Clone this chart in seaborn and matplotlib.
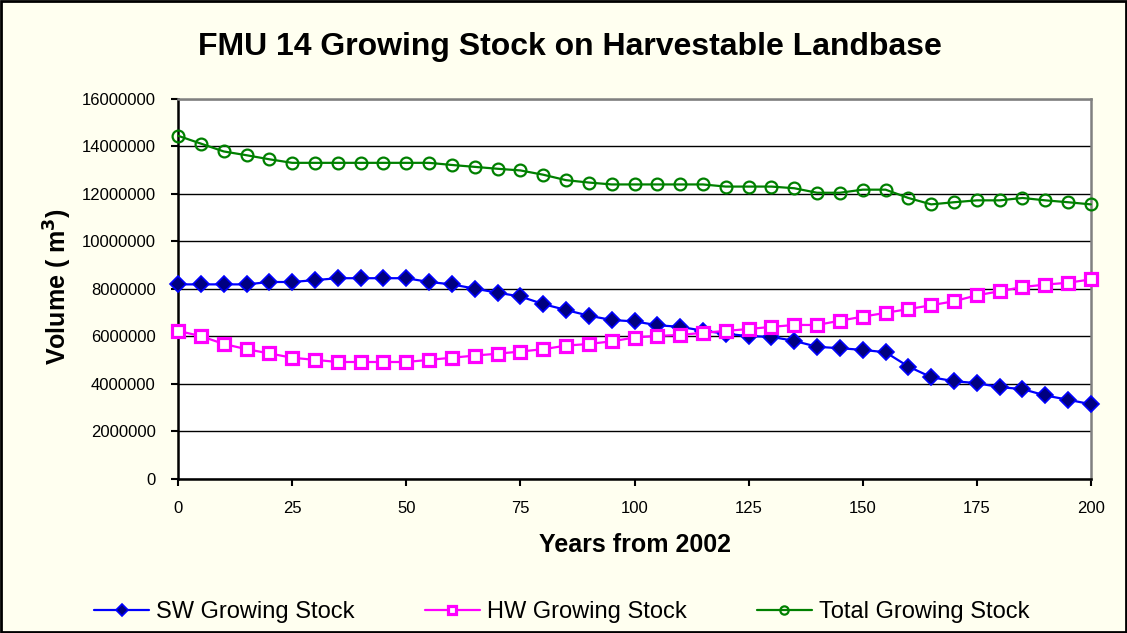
import numpy as np
import pandas as pd
import matplotlib
matplotlib.use('Agg')
import matplotlib.pyplot as plt
import seaborn as sns

# Data (volumes in millions of m3)
years = list(range(0, 201, 5))
sw_stock = [8.18, 8.18, 8.18, 8.18, 8.28, 8.28, 8.36, 8.44, 8.44, 8.44, 8.44,
            8.28, 8.18, 8.00, 7.83, 7.67, 7.35, 7.10, 6.86, 6.68, 6.62,
            6.46, 6.39, 6.23, 6.10, 6.00, 5.97, 5.80, 5.55, 5.49, 5.42,
            5.32, 4.72, 4.27, 4.10, 4.02, 3.85, 3.77, 3.50, 3.32, 3.13]
hw_stock = [6.22, 6.00, 5.67, 5.45, 5.27, 5.09, 5.00, 4.91, 4.91, 4.91, 4.91,
            5.00, 5.09, 5.18, 5.26, 5.35, 5.45, 5.60, 5.67, 5.78, 5.94,
            6.01, 6.05, 6.14, 6.22, 6.30, 6.39, 6.47, 6.47, 6.65, 6.82,
            6.98, 7.14, 7.30, 7.47, 7.72, 7.89, 8.07, 8.17, 8.25, 8.39]
total_stock = [14.44, 14.11, 13.78, 13.62, 13.45, 13.30, 13.30, 13.30, 13.30, 13.30, 13.30,
               13.30, 13.21, 13.13, 13.05, 12.98, 12.80, 12.57, 12.47, 12.39, 12.39,
               12.39, 12.39, 12.39, 12.30, 12.30, 12.30, 12.23, 12.04, 12.04, 12.17,
               12.17, 11.82, 11.55, 11.64, 11.72, 11.72, 11.82, 11.72, 11.64, 11.55]
y_ticks = list(range(0, 16000001, 2000000))
x_ticks = list(range(0, 201, 25))

df = pd.DataFrame({'Year': years,
                   'SW': np.array(sw_stock) * 1e6,
                   'HW': np.array(hw_stock) * 1e6,
                   'Total': np.array(total_stock) * 1e6})

sns.set_theme(style='white')
plt.rcParams['font.family'] = ['Liberation Sans', 'DejaVu Sans']
plt.rcParams['mathtext.default'] = 'bf'
plt.rcParams['text.color'] = 'black'

bg = '#FFFFF0'
fig = plt.figure(figsize=(11.27, 6.33), dpi=100, facecolor=bg)
ax = fig.add_axes([0.158, 0.244, 0.810, 0.600])
ax.set_facecolor('white')

sns.lineplot(data=df, x='Year', y='SW', ax=ax, color='#0000FF', lw=1.6,
             marker='D', markersize=8.5, markerfacecolor='#000080',
             markeredgecolor='#0000FF', markeredgewidth=1.2, label='SW Growing Stock',
             clip_on=False, zorder=5)
sns.lineplot(data=df, x='Year', y='HW', ax=ax, color='#FF00FF', lw=1.6,
             marker='s', markersize=8.5, markerfacecolor='white',
             markeredgecolor='#FF00FF', markeredgewidth=2.3, label='HW Growing Stock',
             clip_on=False, zorder=5)
sns.lineplot(data=df, x='Year', y='Total', ax=ax, color='#008000', lw=1.6,
             marker='o', markersize=8.5, markerfacecolor='none',
             markeredgecolor='#008000', markeredgewidth=1.6, label='Total Growing Stock',
             clip_on=False, zorder=5)

ax.set_xlim(0, 200)
ax.set_ylim(0, 16000000)
ax.set_xticks(x_ticks)
ax.set_yticks(y_ticks)
ax.set_yticklabels([str(v) for v in y_ticks])
ax.tick_params(axis='both', labelsize=12, direction='out', length=5, width=1.5,
               colors='black', labelcolor='black', left=True, bottom=True, pad=11)
ax.yaxis.grid(True, color='black', lw=1)
ax.xaxis.grid(False)
for side in ['left', 'bottom']:
    ax.spines[side].set_color('black')
    ax.spines[side].set_linewidth(1.8)
for side in ['top', 'right']:
    ax.spines[side].set_color('#808080')
    ax.spines[side].set_linewidth(1.8)

ax.set_xlabel('Years from 2002', fontsize=18, fontweight='bold', color='black')
ax.xaxis.set_label_coords(0.5, -0.174)
ax.xaxis.label.set_va('center')
ax.set_ylabel('Volume ( m$^3$)', fontsize=18, fontweight='bold', color='black')
ax.yaxis.set_label_coords(-0.132, 0.505)
ax.yaxis.label.set_va('center')
fig.text(0.506, 1 - 47 / 633, 'FMU 14 Growing Stock on Harvestable Landbase',
         fontsize=23, fontweight='bold', ha='center', va='center', color='black')

ax.get_legend().remove()
handles, labels = ax.get_legend_handles_labels()
fig.legend(handles, labels, loc='center left', ncol=3, frameon=False,
           fontsize=17, bbox_to_anchor=(82 / 1127, 1 - 612 / 633), borderpad=0,
           columnspacing=2.95, handlelength=2.35, handletextpad=0.3, markerscale=0.7)

# black border round the whole chart
fig.patches.append(plt.Rectangle((0.001, 0.001), 0.998, 0.997, transform=fig.transFigure,
                                 fill=False, edgecolor='black', lw=2))

fig.savefig('out.png', dpi=100, facecolor=bg)
